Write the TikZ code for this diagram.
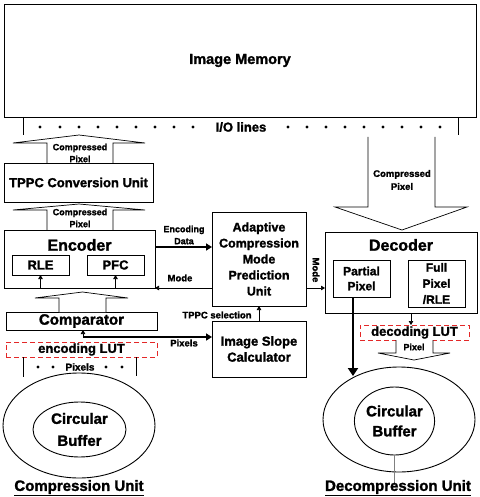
\documentclass[tikz,border=0pt]{standalone}
\usepackage{fontspec}
\setmainfont{Liberation Sans}[BoldFeatures={FakeBold=1.6}]
\usetikzlibrary{arrows.meta,shapes.geometric}
\definecolor{lutred}{RGB}{228,40,40}
\begin{document}
\begin{tikzpicture}[x=1pt,y=-1pt,
  every node/.style={inner sep=0pt, outer sep=0pt},
  box/.style={draw=black, line width=0.9pt, rectangle},
  lut/.style={draw=lutred, dash pattern=on 5pt off 3pt, line width=1pt, rectangle},
  lbl/.style={font=\fontsize{9}{12}\selectfont\bfseries, align=center},
  arr/.style={line width=0.7pt, -{Triangle[length=4pt,width=4.5pt]}},
  tarr/.style={line width=2.2pt, -{Triangle[length=6pt,width=7pt]}},
  hollow/.style={draw, line width=0.7pt, fill=white, line join=miter},
  circ/.style={draw, line width=0.9pt, ellipse, inner sep=0pt},
]
\useasboundingbox (0,0) rectangle (479,497);

% Image memory
\node[box, minimum width=472, minimum height=113, font=\fontsize{14.5}{16}\selectfont\bfseries] (mem) at (240,60.5) {Image Memory};
\node[font=\fontsize{13}{15}\selectfont\bfseries] (io) at (241,127) {I/O lines};
\draw[line width=0.7pt] (23,117) -- (23,135);
\draw[line width=0.7pt] (458,117) -- (458,135);
\foreach \x in {40,60,79,98,117,136,155,174,193,288,307,326,345,364,383,402,421,440}
  \fill (\x,127) circle[radius=1.6];

% hollow arrows, left
\draw[hollow] (47,163) -- (47,143) -- (13,143) -- (79,135) -- (145,143) -- (113,143) -- (113,163);
\node[lbl] (cp1) at (80,153) {Compressed\\Pixel};
\node[box, minimum width=149, minimum height=39, font=\fontsize{13}{15}\selectfont\bfseries] (tppc) at (78.5,182.5) {TPPC Conversion Unit};
\draw[hollow] (47,230) -- (47,210) -- (13,210) -- (79,204) -- (145,210) -- (113,210) -- (113,230);
\node[lbl] (cp2) at (80,218) {Compressed\\Pixel};

% Encoder
\node[box, minimum width=151, minimum height=58] (enc) at (79.5,259) {};
\node[font=\fontsize{16}{18}\selectfont\bfseries] (enct) at (79.5,245) {Encoder};
\node[box, minimum width=57, minimum height=20, font=\fontsize{13}{15}\selectfont\bfseries] (rle) at (40.5,265) {RLE};
\node[box, minimum width=57, minimum height=20, font=\fontsize{13}{15}\selectfont\bfseries] (pfc) at (115.5,265) {PFC};
\draw[arr] (rle.south |- enc.south) -- (rle.south);
\draw[arr] (pfc.south |- enc.south) -- (pfc.south);

% Comparator
\node[box, minimum width=151, minimum height=18, font=\fontsize{15}{17}\selectfont\bfseries] (comp) at (81.5,321) {Comparator};
\draw[hollow] (59,312) -- (59,298) -- (35,298) -- (82.5,292) -- (128,298) -- (106,298) -- (106,312);
\node[lut, minimum width=151, minimum height=15, font=\fontsize{13}{15}\selectfont\bfseries] (elut) at (81.5,349.5) {encoding LUT};

% Pixels row
\draw[line width=0.7pt] (23,357) -- (23,377);
\draw[line width=0.7pt] (136,357) -- (136,376);
\foreach \x in {38,53,106,122} \fill (\x,367) circle[radius=1.6];
\node[font=\fontsize{10}{12}\selectfont\bfseries] (px0) at (80,367) {Pixels};

% Compression circular buffer
\node[circ, minimum width=152, minimum height=105] (cout) at (79,425.5) {};
\node[circ, minimum width=93, minimum height=55, align=center, font=\fontsize{15}{22}\selectfont\bfseries] (cin) at (79.5,429.5) {Circular\\Buffer};
\node[font=\fontsize{15}{17}\selectfont\bfseries] (cu) at (79,488) {\underline{Compression Unit}};

% ACMP and ISC
\node[box, minimum width=94, minimum height=94, align=center, font=\fontsize{12.5}{16}\selectfont\bfseries] (acmp) at (259,259) {Adaptive\\Compression\\Mode\\Prediction\\Unit};
\node[box, minimum width=94, minimum height=56, align=center, font=\fontsize{13}{16}\selectfont\bfseries] (isc) at (259,349) {Image Slope\\Calculator};

\coordinate (edy) at (0,247);
\coordinate (mdy) at (0,288);
\draw[tarr] (enc.east |- edy) -- (acmp.west |- edy);
\node[lbl] (edl) at (184,235) {Encoding\\Data};
\draw[arr] (acmp.west |- mdy) -- (enc.east |- mdy);
\node[lbl, font=\fontsize{9.5}{12}\selectfont\bfseries] (ml) at (180,278) {Mode};
\draw[arr] (isc.north) -- (acmp.south);
\node[lbl, font=\fontsize{9.5}{12}\selectfont\bfseries] (tsl) at (217,315) {TPPC selection};
\coordinate (pxs) at (83,337);
\draw[tarr] (pxs) -- (isc.west |- pxs);
\draw[arr] (pxs) -- (pxs |- comp.south);
\node[lbl, font=\fontsize{9.5}{12}\selectfont\bfseries] (pxl) at (184,343) {Pixels};

% Decoder side
\draw[hollow] (368,137) -- (368,207) -- (335,207) -- (402,230) -- (467,207) -- (435,207) -- (435,137);
\node[lbl, font=\fontsize{9.5}{13}\selectfont\bfseries] (cp3) at (402,180) {Compressed\\Pixel};
\node[box, minimum width=152, minimum height=81] (dec) at (401,272.5) {};
\node[font=\fontsize{16}{18}\selectfont\bfseries] (dect) at (401,245) {Decoder};
\node[box, minimum width=57, minimum height=37, align=center, font=\fontsize{12}{15}\selectfont\bfseries] (pp) at (361.5,278.5) {Partial\\Pixel};
\node[box, minimum width=57, minimum height=47, align=center, font=\fontsize{12}{16}\selectfont\bfseries] (fp) at (436.5,283.5) {Full\\Pixel\\/RLE};
\draw[arr] (acmp.east |- mdy) -- (dec.west |- mdy);
\node[lbl, font=\fontsize{9.5}{12}\selectfont\bfseries, rotate=-90] (mr) at (316,270) {Mode};

\node[lut, minimum width=109, minimum height=15, font=\fontsize{13}{15}\selectfont\bfseries] (dlut) at (414.5,332.5) {decoding LUT};
\draw[arr] ([xshift=-3.5pt]dlut.north |- dec.south) -- ([xshift=-3.5pt]dlut.north);
\draw[hollow] (396,340) -- (396,353) -- (378,353) -- (414,360) -- (450,353) -- (433,353) -- (433,340);
\node[lbl] (pxd) at (414,347) {Pixel};

\node[circ, minimum width=152, minimum height=105] (dout) at (399,419.5) {};
\node[circ, minimum width=75, minimum height=68, align=center, font=\fontsize{15}{20}\selectfont\bfseries] (din) at (394.5,421) {Circular\\Buffer};
\coordinate (ppend) at (353,376);
\draw[line width=2.4pt, -{Triangle[length=8pt,width=10pt]}] (ppend |- pp.south) -- (ppend);
\draw[gray, line width=0.8pt] (din.south) -- ++(0,30);
\node[font=\fontsize{15}{17}\selectfont\bfseries] (du) at (398,488) {\underline{Decompression Unit}};
\end{tikzpicture}
\end{document}
